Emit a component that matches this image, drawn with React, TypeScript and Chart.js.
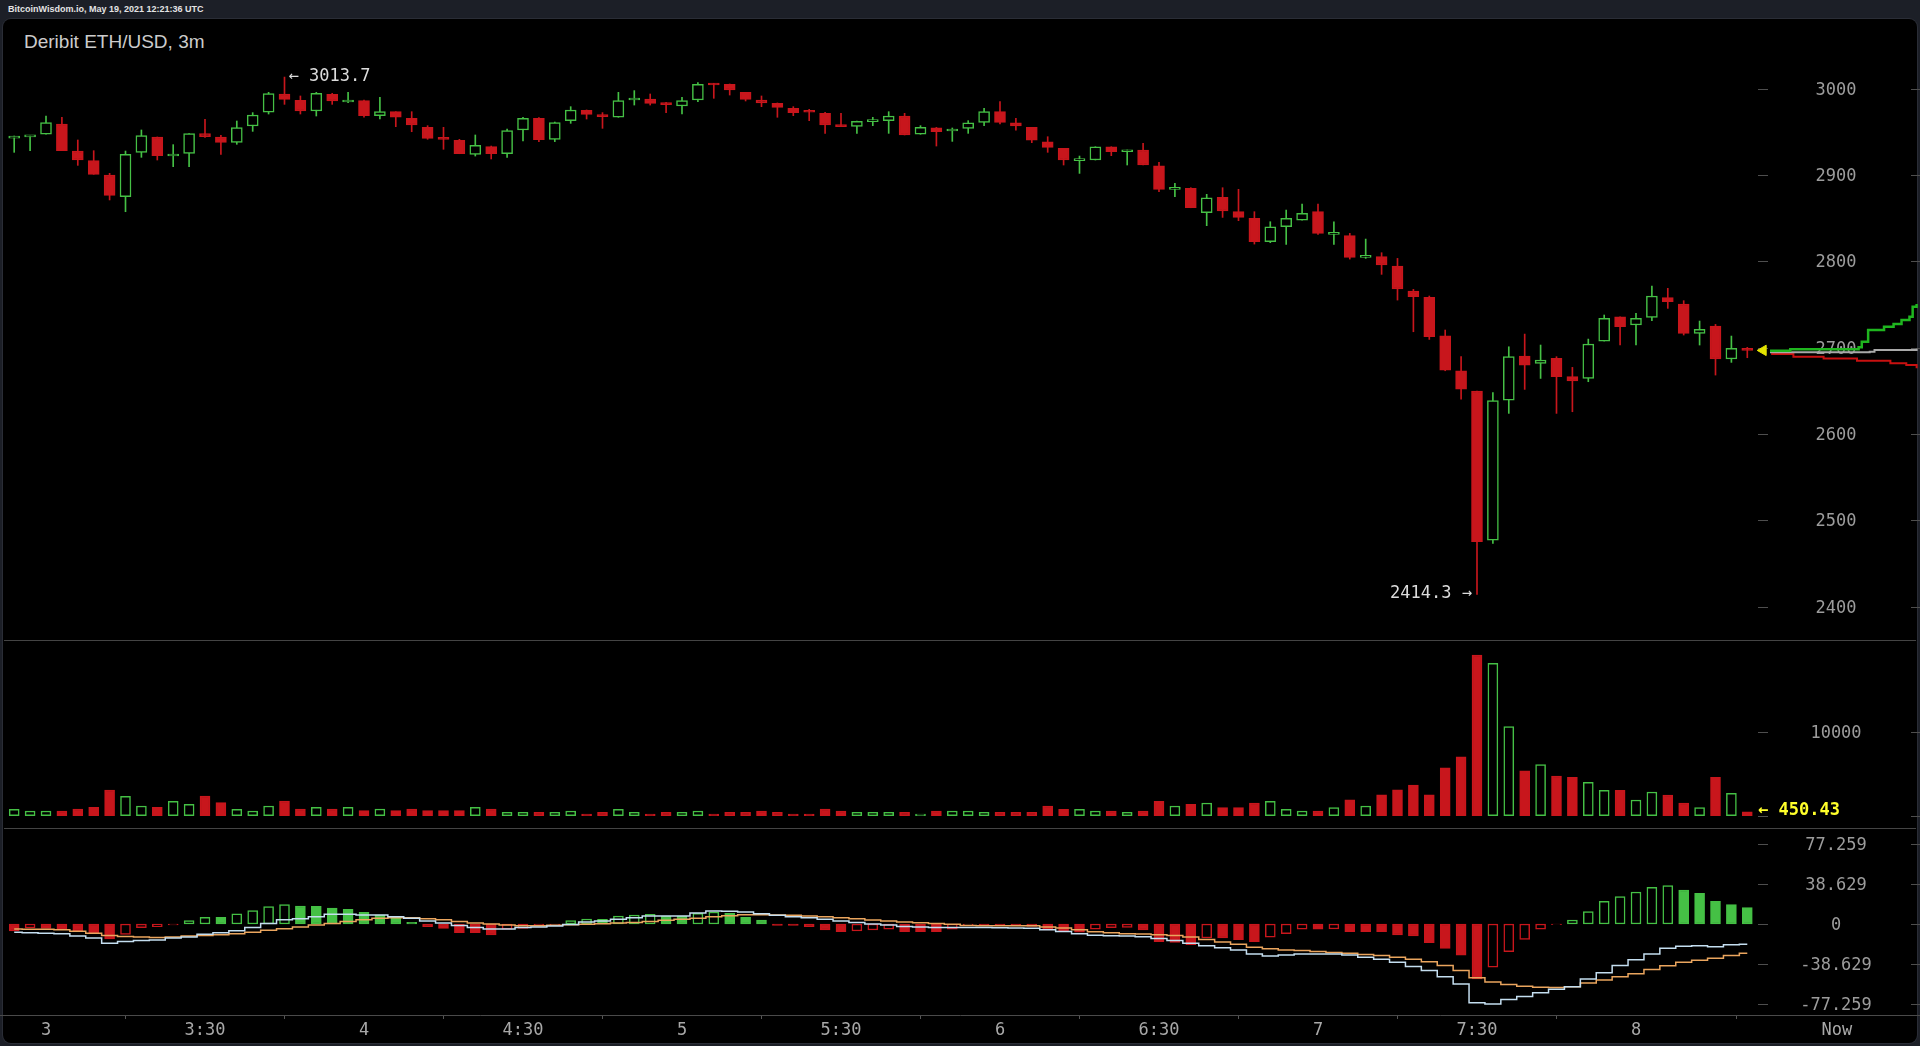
import React, { useEffect, useRef } from 'react';
import { Chart, registerables } from 'chart.js';

Chart.register(...registerables);

// ---- Data (3m candles, index 0 = 3:00) ----
const FIRST_INDEX = -2;

const opens = [
  2943.0, 2944.5, 2947.4, 2959.3, 2928.0, 2916.8, 2900.2, 2875.1, 2926.5, 2944.3,
  2922.2, 2925.3, 2948.1, 2944.3, 2938.1, 2957.0, 2972.9, 2994.1, 2986.8, 2974.4,
  2993.7, 2984.8, 2986.4, 2969.0, 2973.6, 2965.9, 2955.5, 2942.3, 2940.4, 2924.2,
  2933.1, 2924.9, 2952.4, 2965.9, 2941.6, 2963.2, 2975.2, 2969.8, 2967.1, 2987.1,
  2988.3, 2982.5, 2980.2, 2987.1, 3006.1, 3005.3, 2996.0, 2987.1, 2983.3, 2977.5,
  2973.6, 2971.7, 2957.0, 2956.6, 2962.0, 2963.2, 2968.6, 2947.4, 2955.0, 2951.2,
  2954.3, 2961.2, 2973.6, 2960.8, 2955.4, 2938.8, 2931.1, 2916.8, 2917.6, 2933.0,
  2927.2, 2929.2, 2911.0, 2883.6, 2884.7, 2856.5, 2874.3, 2857.7, 2850.0, 2822.9,
  2840.3, 2848.0, 2857.7, 2831.4, 2829.9, 2804.8, 2805.6, 2794.7, 2765.8, 2758.4,
  2714.0, 2673.4, 2649.9, 2477.2, 2639.4, 2690.4, 2681.9, 2687.7, 2666.5, 2664.6,
  2707.8, 2736.0, 2726.4, 2735.3, 2758.1, 2750.7, 2716.7, 2725.2, 2687.0, 2697.4,
];
const highs = [
  2945.4, 2946.0, 2968.6, 2967.1, 2940.8, 2928.4, 2902.2, 2928.0, 2952.4, 2944.3,
  2935.4, 2948.1, 2964.7, 2946.2, 2962.8, 2972.5, 2996.0, 3013.7, 2991.8, 2996.0,
  2994.9, 2996.0, 2987.1, 2990.2, 2973.6, 2973.6, 2957.4, 2955.5, 2941.6, 2946.6,
  2933.8, 2953.5, 2967.1, 2966.7, 2961.6, 2979.4, 2975.6, 2972.5, 2996.0, 2998.0,
  2994.1, 2984.4, 2990.2, 3007.2, 3006.5, 3005.7, 2996.0, 2991.8, 2983.7, 2979.4,
  2976.3, 2972.9, 2971.7, 2962.8, 2967.1, 2973.6, 2971.7, 2957.4, 2955.4, 2954.7,
  2963.2, 2977.4, 2985.2, 2965.9, 2955.4, 2944.6, 2931.1, 2922.2, 2933.0, 2933.0,
  2929.2, 2936.9, 2914.9, 2890.5, 2885.5, 2877.8, 2885.5, 2883.6, 2857.7, 2846.1,
  2859.6, 2866.6, 2866.6, 2846.1, 2832.6, 2826.0, 2810.2, 2803.6, 2767.7, 2760.0,
  2720.6, 2689.7, 2649.9, 2648.0, 2701.2, 2715.9, 2703.2, 2689.7, 2677.3, 2710.1,
  2738.0, 2736.0, 2739.9, 2771.6, 2768.9, 2754.6, 2731.0, 2727.1, 2713.6, 2700.5,
];
const lows = [
  2926.5, 2928.4, 2947.4, 2928.4, 2911.4, 2901.0, 2871.3, 2857.7, 2920.7, 2917.6,
  2909.9, 2909.9, 2943.9, 2924.2, 2935.8, 2950.8, 2970.9, 2982.1, 2970.9, 2968.6,
  2982.1, 2984.1, 2967.1, 2965.1, 2956.2, 2950.4, 2941.6, 2930.0, 2924.9, 2922.2,
  2918.8, 2920.7, 2939.6, 2938.9, 2938.9, 2960.1, 2965.1, 2954.3, 2967.1, 2981.3,
  2981.3, 2972.5, 2970.9, 2985.2, 2989.1, 2992.9, 2986.0, 2979.4, 2967.1, 2969.0,
  2963.2, 2948.5, 2956.2, 2948.5, 2957.4, 2948.5, 2946.6, 2947.4, 2933.8, 2939.2,
  2948.5, 2957.4, 2959.3, 2952.3, 2937.7, 2926.5, 2911.8, 2902.1, 2917.6, 2922.6,
  2911.8, 2911.8, 2880.9, 2875.1, 2862.3, 2841.5, 2851.1, 2847.3, 2820.2, 2821.8,
  2819.8, 2848.0, 2831.4, 2819.8, 2802.8, 2803.6, 2785.1, 2755.3, 2718.6, 2709.7,
  2673.4, 2640.6, 2414.3, 2473.3, 2624.0, 2651.8, 2664.5, 2624.0, 2625.9, 2660.7,
  2707.8, 2703.2, 2703.2, 2731.4, 2745.7, 2714.8, 2703.2, 2668.4, 2683.1, 2688.5,
];
const closes = [
  2944.0, 2945.5, 2960.9, 2928.4, 2917.6, 2901.0, 2876.7, 2924.2, 2945.8, 2922.6,
  2923.0, 2948.1, 2944.7, 2938.1, 2955.1, 2969.8, 2994.5, 2987.9, 2974.4, 2994.9,
  2986.0, 2985.6, 2969.0, 2973.6, 2967.1, 2958.2, 2942.7, 2941.6, 2924.9, 2934.6,
  2924.9, 2951.6, 2965.9, 2941.2, 2960.9, 2975.6, 2970.5, 2967.8, 2986.4, 2987.9,
  2983.3, 2981.7, 2986.4, 3005.3, 3004.5, 2998.7, 2987.9, 2983.7, 2978.6, 2972.5,
  2972.9, 2958.2, 2956.2, 2962.4, 2962.8, 2968.6, 2946.6, 2955.5, 2950.4, 2953.1,
  2960.8, 2973.6, 2961.2, 2957.0, 2940.7, 2932.2, 2917.6, 2917.6, 2933.0, 2927.2,
  2929.2, 2911.8, 2883.6, 2884.7, 2862.3, 2873.9, 2858.5, 2851.1, 2822.9, 2840.3,
  2850.0, 2855.8, 2832.6, 2832.2, 2804.8, 2807.1, 2795.9, 2768.1, 2759.2, 2712.8,
  2674.2, 2652.2, 2475.3, 2638.7, 2689.7, 2680.0, 2685.8, 2666.5, 2661.5, 2704.4,
  2734.1, 2724.4, 2734.1, 2760.0, 2753.4, 2716.7, 2721.3, 2687.0, 2699.3, 2697.0,
];
const volumes = [
  762, 560, 560, 560, 800, 1000, 3060, 2310, 1155, 1000,
  1714, 1357, 2345, 1548, 762, 560, 1155, 1750, 800, 1000,
  800, 1000, 600, 800, 600, 800, 600, 600, 600, 1000,
  800, 400, 400, 400, 400, 560, 200, 400, 762, 400,
  200, 400, 400, 560, 200, 400, 400, 560, 400, 200,
  200, 800, 560, 400, 400, 400, 400, 200, 560, 560,
  560, 400, 400, 400, 400, 1155, 762, 762, 560, 560,
  400, 560, 1714, 1155, 1357, 1512, 960, 960, 1512, 1714,
  762, 560, 560, 960, 1904, 1155, 2487, 3082, 3637, 2487,
  5700, 7000, 19130, 18140, 10600, 5330, 6080, 4730, 4570, 3970,
  3020, 3020, 1865, 2820, 2460, 1510, 960, 4570, 2660, 450.43,
];
const macdHist = [
  -6.8, -3.9, -4.2, -5.5, -6.8, -9.0, -14.5, -10.0, -3.5, -2.6,
  -1.0, 3.2, 6.4, 6.4, 9.7, 12.9, 16.7, 18.7, 17.4, 17.1,
  15.4, 14.2, 11.3, 8.7, 7.1, 1.6, -2.6, -4.2, -8.4, -8.4,
  -10.6, -5.1, -4.2, -1.9, -1.6, 3.2, 4.8, 4.5, 7.7, 8.7,
  9.3, 7.7, 7.7, 10.3, 11.6, 10.3, 6.4, 3.9, -1.3, -1.3,
  -2.6, -5.8, -7.4, -6.8, -5.8, -5.1, -7.4, -7.4, -7.4, -5.1,
  -1.3, -1.3, -1.3, -1.3, -2.3, -5.8, -7.4, -8.0, -5.1, -3.5,
  -3.2, -5.8, -17, -17.7, -20, -13.5, -13.5, -15.1, -17, -12.6,
  -9.3, -5.1, -5.1, -4.8, -7.4, -7.4, -7.4, -10.6, -11.6, -18,
  -23.5, -30, -53.1, -41.8, -26.7, -14.8, -5.1, -0.6, 3.9, 11.9,
  21.9, 26.4, 30.9, 35.4, 37.0, 32.8, 29.6, 21.9, 18.7, 15.8,
];
const macdLine = [
  -8, -8.5, -9, -9.5, -11.5, -13.5, -18.5, -17, -16, -15.5,
  -13.5, -12.5, -10, -8.5, -6.5, -3.5, 0.5, 4, 5, 7,
  9.3, 9.3, 8.7, 8.7, 7, 5.5, 3, 1, -1.5, -3.5,
  -4.8, -4.8, -3.5, -3, -2, -0.5, 2, 3, 4.5, 6,
  7.7, 7.7, 7.7, 10.5, 12.6, 12.3, 11.5, 10, 8.5, 7,
  6, 4.5, 3, 1.5, 0, -1, -2.5, -3, -3.3, -3.5,
  -3.3, -3.5, -3.7, -3.9, -4.2, -5.5, -7.2, -9.5, -10.8, -11.3,
  -11.6, -12.3, -14, -16, -18.5, -21, -23, -25, -29, -30.9,
  -30, -29, -29, -29, -30, -32, -34, -37, -41, -45,
  -51, -58, -76, -77.2, -73, -70, -66.3, -63, -60.5, -53,
  -47, -40, -34.5, -29, -23.5, -21.5, -21, -22, -20, -19.6,
];
const signalLine = [
  -4.8, -5, -5, -5.5, -7, -9, -11, -12, -12.5, -13,
  -12.5, -11.6, -11, -10.5, -9.5, -8, -6, -4.5, -3, -1,
  0.5, 2.3, 4, 5.5, 6.1, 6, 5, 4, 2.5, 1,
  0, -1, -1.6, -1.6, -1.3, -0.8, -0.3, 0.3, 1, 1.5,
  2.5, 3.5, 4.5, 5.5, 7, 8, 9, 9, 8.7, 8.5,
  7.7, 7, 6, 5, 3.8, 3, 2, 1.3, 0.5, -0.3,
  -1.5, -1.6, -1.6, -1.6, -1.8, -2.8, -3.8, -5.5, -7.4, -8.5,
  -9.3, -9.7, -10.5, -11.2, -12.5, -15, -17.5, -19.5, -22.5, -24,
  -25, -25.7, -26.5, -27.5, -28.3, -29.5, -30.5, -32, -34, -36.5,
  -40, -45, -52, -56, -58.5, -60, -61, -61.2, -60.5, -57,
  -54, -51, -48, -44, -40.2, -37, -35, -33, -30.5, -28.3,
];

// order-book depth lines, x in candle units
const depthBidX = [108.43, 109.7, 111.4, 114.0, 114.2, 114.6, 115.6, 116.2, 116.7, 117.2, 117.4, 117.65];
const depthBidY = [2696.6, 2698.2, 2698.2, 2700.5, 2707.1, 2720.6, 2724.4, 2727.5, 2732.2, 2736.0, 2747.6, 2750.7];
const depthMidX = [108.43, 114.7, 115.0, 117.65];
const depthMidY = [2694.7, 2695.5, 2697.4, 2699.0];
const depthAskX = [108.5, 109.9, 111.8, 113.9, 116.0, 117.0, 117.65];
const depthAskY = [2692.8, 2689.7, 2687.7, 2685.0, 2682.0, 2680.0, 2676.2];

// tick labels
const priceTicks = [2400, 2500, 2600, 2700, 2800, 2900, 3000];
const priceTickLabels = ['2400', '2500', '2600', '2700', '2800', '2900', '3000'];
const volumeTicks = [0, 10000];
const volumeTickLabels = ['', '10000'];
const macdTicks = [77.259, 38.629, 0, -38.629, -77.259];
const macdTickLabels = ['77.259', '38.629', '0', '-38.629', '-77.259'];
const timeTicks = [0, 10, 20, 30, 40, 50, 60, 70, 80, 90, 100, 112.64];
const timeTickLabels = ['3', '3:30', '4', '4:30', '5', '5:30', '6', '6:30', '7', '7:30', '8', 'Now'];

// ---- styling ----
const GREEN = '#45c045';
const RED = '#c8161c';
const X_MIN = -2.893;
const X_MAX = 117.862;
const MONO = '"DejaVu Sans Mono", monospace';

const idx = opens.map((_, i) => i + FIRST_INDEX);
const isUp = opens.map((o, i) => closes[i] >= o);
const candleColor = isUp.map((u) => (u ? GREEN : RED));
const candleFill = isUp.map((u) => (u ? '#000000' : RED));

function axisLabelPlugin(values: number[], labels: string[]) {
  return {
    id: 'rightAxisLabels',
    beforeDatasetsDraw(chart: any) {
      const { ctx, width } = chart;
      const ys = chart.scales.y;
      ctx.save();
      ctx.font = '17px ' + MONO;
      ctx.fillStyle = '#9c9c9c';
      ctx.textAlign = 'center';
      ctx.textBaseline = 'middle';
      ctx.strokeStyle = '#4e4e4e';
      ctx.lineWidth = 1;
      values.forEach((v, i) => {
        const py = Math.round(ys.getPixelForValue(v)) + 0.5;
        ctx.beginPath();
        ctx.moveTo(width - 162, py);
        ctx.lineTo(width - 152, py);
        ctx.moveTo(width - 9, py);
        ctx.lineTo(width, py);
        ctx.stroke();
        if (labels[i]) ctx.fillText(labels[i], width - 84, py + 1);
      });
      ctx.restore();
    },
  };
}

const priceNotePlugin = {
  id: 'priceNotes',
  afterDatasetsDraw(chart: any) {
    const { ctx } = chart;
    const xs = chart.scales.x;
    const ys = chart.scales.y;
    const hi = Math.max(...highs);
    const hiI = highs.indexOf(hi);
    const lo = Math.min(...lows);
    const loI = lows.indexOf(lo);
    ctx.save();
    ctx.font = '17px ' + MONO;
    ctx.fillStyle = '#dcdcdc';
    ctx.textBaseline = 'middle';
    ctx.textAlign = 'left';
    ctx.fillText('\u2190 ' + hi.toFixed(1), xs.getPixelForValue(idx[hiI]) + 4, ys.getPixelForValue(hi) - 1);
    ctx.textAlign = 'right';
    ctx.fillText(lo.toFixed(1) + ' \u2192', xs.getPixelForValue(idx[loI]) - 5, ys.getPixelForValue(lo) - 1);
    ctx.restore();
  },
};

const volumeNotePlugin = {
  id: 'volumeNote',
  afterDatasetsDraw(chart: any) {
    const { ctx, width } = chart;
    const ys = chart.scales.y;
    const last = volumes[volumes.length - 1];
    ctx.save();
    ctx.font = 'bold 17px ' + MONO;
    ctx.fillStyle = '#ffff2a';
    ctx.textAlign = 'left';
    ctx.textBaseline = 'middle';
    ctx.fillText('\u2190 ' + last.toFixed(2), width - 162, ys.getPixelForValue(last) - 1);
    ctx.restore();
  },
};

const baseOptions = (yMin: number, yMax: number) => ({
  responsive: false,
  animation: false as const,
  devicePixelRatio: 1,
  events: [] as any[],
  layout: { padding: 0, autoPadding: false },
  plugins: { legend: { display: false }, tooltip: { enabled: false } },
  scales: {
    x: { type: 'linear' as const, min: X_MIN, max: X_MAX, offset: false, display: false },
    y: { type: 'linear' as const, min: yMin, max: yMax, display: false },
  },
});

export default function App() {
  const priceRef = useRef<HTMLCanvasElement>(null);
  const volRef = useRef<HTMLCanvasElement>(null);
  const macdRef = useRef<HTMLCanvasElement>(null);

  useEffect(() => {
    document.body.style.margin = '0';
    document.body.style.background = '#1c1f27';
    Chart.defaults.font.family = MONO;
    const charts: Chart[] = [];

    const lastClose = closes[closes.length - 1];
    const lastIdx = idx[idx.length - 1];

    charts.push(
      new Chart(priceRef.current as HTMLCanvasElement, {
        type: 'bar',
        data: {
          datasets: [
            {
              type: 'bar',
              data: idx.map((k, i) => ({ x: k, y: [lows[i], highs[i]] })) as any,
              backgroundColor: candleColor,
              borderWidth: 0,
              barThickness: 1,
              grouped: false,
              order: 3,
            },
            {
              type: 'bar',
              data: idx.map((k, i) => ({ x: k, y: [opens[i], closes[i]] })) as any,
              backgroundColor: candleFill,
              borderColor: candleColor,
              borderWidth: 1.5,
              borderSkipped: false,
              barThickness: 11,
              minBarLength: 2,
              grouped: false,
              order: 2,
            },
            {
              type: 'line',
              data: depthMidX.map((x, i) => ({ x, y: depthMidY[i] })),
              borderColor: '#a9a9a9',
              borderWidth: 2,
              pointRadius: 0,
              stepped: true,
              order: 1,
            },
            {
              type: 'line',
              data: depthAskX.map((x, i) => ({ x, y: depthAskY[i] })),
              borderColor: '#c81010',
              borderWidth: 2,
              pointRadius: 0,
              stepped: true,
              order: 1,
            },
            {
              type: 'line',
              data: depthBidX.map((x, i) => ({ x, y: depthBidY[i] })),
              borderColor: '#1fb51f',
              borderWidth: 2.5,
              pointRadius: 0,
              stepped: true,
              order: 0,
            },
            {
              type: 'line',
              data: [{ x: lastIdx + 1, y: lastClose }],
              showLine: false,
              pointStyle: 'triangle',
              pointRadius: 6,
              rotation: -90,
              backgroundColor: '#e3e300',
              borderColor: '#e3e300',
              order: 0,
            } as any,
          ],
        },
        options: baseOptions(2361.4, 3081.0) as any,
        plugins: [axisLabelPlugin(priceTicks, priceTickLabels), priceNotePlugin],
      })
    );

    charts.push(
      new Chart(volRef.current as HTMLCanvasElement, {
        type: 'bar',
        data: {
          datasets: [
            {
              type: 'bar',
              data: idx.map((k, i) => ({ x: k, y: volumes[i] })) as any,
              backgroundColor: candleFill,
              borderColor: candleColor,
              borderWidth: 1.5,
              borderSkipped: false,
              barThickness: 10,
              grouped: false,
            },
          ],
        },
        options: baseOptions(-1464, 20798) as any,
        plugins: [axisLabelPlugin(volumeTicks, volumeTickLabels), volumeNotePlugin],
      })
    );

    const histColor = macdHist.map((v) => (v >= 0 ? GREEN : RED));
    const histFill = macdHist.map((v, i) => {
      const rising = i > 0 && v > macdHist[i - 1];
      return rising ? '#000000' : v >= 0 ? GREEN : RED;
    });
    const macdOpts: any = baseOptions(-87.87, 91.73);
    macdOpts.scales.x = {
      type: 'linear',
      min: X_MIN,
      max: X_MAX,
      offset: false,
      display: true,
      position: 'bottom',
      afterBuildTicks: (axis: any) => {
        axis.ticks = timeTicks.map((v) => ({ value: v }));
      },
      afterFit: (axis: any) => {
        axis.height = 27;
      },
      ticks: {
        autoSkip: false,
        maxRotation: 0,
        minRotation: 0,
        padding: 1,
        color: '#a8a8a8',
        font: { size: 17, family: MONO },
        callback: (_v: any, i: number) => timeTickLabels[i],
      },
      grid: { display: true, drawOnChartArea: false, drawTicks: true, tickLength: 4, color: '#555555' },
      border: { display: true, color: '#4a4a4a' },
    };

    charts.push(
      new Chart(macdRef.current as HTMLCanvasElement, {
        type: 'bar',
        data: {
          datasets: [
            {
              type: 'line',
              data: idx.map((k, i) => ({ x: k, y: signalLine[i] })),
              borderColor: '#eaa55e',
              borderWidth: 1.5,
              pointRadius: 0,
              stepped: 'middle',
              order: 1,
            },
            {
              type: 'line',
              data: idx.map((k, i) => ({ x: k, y: macdLine[i] })),
              borderColor: '#c4def0',
              borderWidth: 1.5,
              pointRadius: 0,
              stepped: 'middle',
              order: 0,
            },
            {
              type: 'bar',
              data: idx.map((k, i) => ({ x: k, y: macdHist[i] })) as any,
              backgroundColor: histFill,
              borderColor: histColor,
              borderWidth: 1.5,
              borderSkipped: false,
              barThickness: 10,
              grouped: false,
              order: 2,
            },
          ],
        },
        options: macdOpts,
        plugins: [axisLabelPlugin(macdTicks, macdTickLabels)],
      })
    );

    return () => charts.forEach((c) => c.destroy());
  }, []);

  return (
    <div style={{ position: 'absolute', left: 0, top: 0, width: 1920, height: 1046, background: '#1c1f27', overflow: 'hidden' }}>
      <div
        style={{
          position: 'absolute',
          left: 8,
          top: 4,
          lineHeight: '12px',
          font: 'bold 9px "Liberation Sans", Arial, sans-serif',
          color: '#e4e4e4',
          whiteSpace: 'nowrap',
        }}
      >
        BitcoinWisdom.io, May 19, 2021 12:21:36 UTC
      </div>
      <div
        style={{
          position: 'absolute',
          left: 3,
          top: 19,
          width: 1914,
          height: 1024,
          background: '#000',
          borderRadius: 8,
          boxShadow: '0 0 0 1px #2a2d36',
        }}
      />
      <div
        style={{
          position: 'absolute',
          left: 24,
          top: 31,
          font: '19px "Liberation Sans", Arial, sans-serif',
          color: '#cccccc',
          whiteSpace: 'nowrap',
        }}
      >
        Deribit ETH/USD, 3m
      </div>
      <div style={{ position: 'absolute', left: 4, top: 640, width: 1912, height: 1, background: '#444' }} />
      <div style={{ position: 'absolute', left: 4, top: 828, width: 1912, height: 1, background: '#444' }} />
      <canvas ref={priceRef} width={1920} height={621} style={{ position: 'absolute', left: 0, top: 19, display: 'block' }} />
      <canvas ref={volRef} width={1920} height={187} style={{ position: 'absolute', left: 0, top: 641, display: 'block' }} />
      <canvas ref={macdRef} width={1920} height={213} style={{ position: 'absolute', left: 0, top: 829, display: 'block' }} />
    </div>
  );
}
